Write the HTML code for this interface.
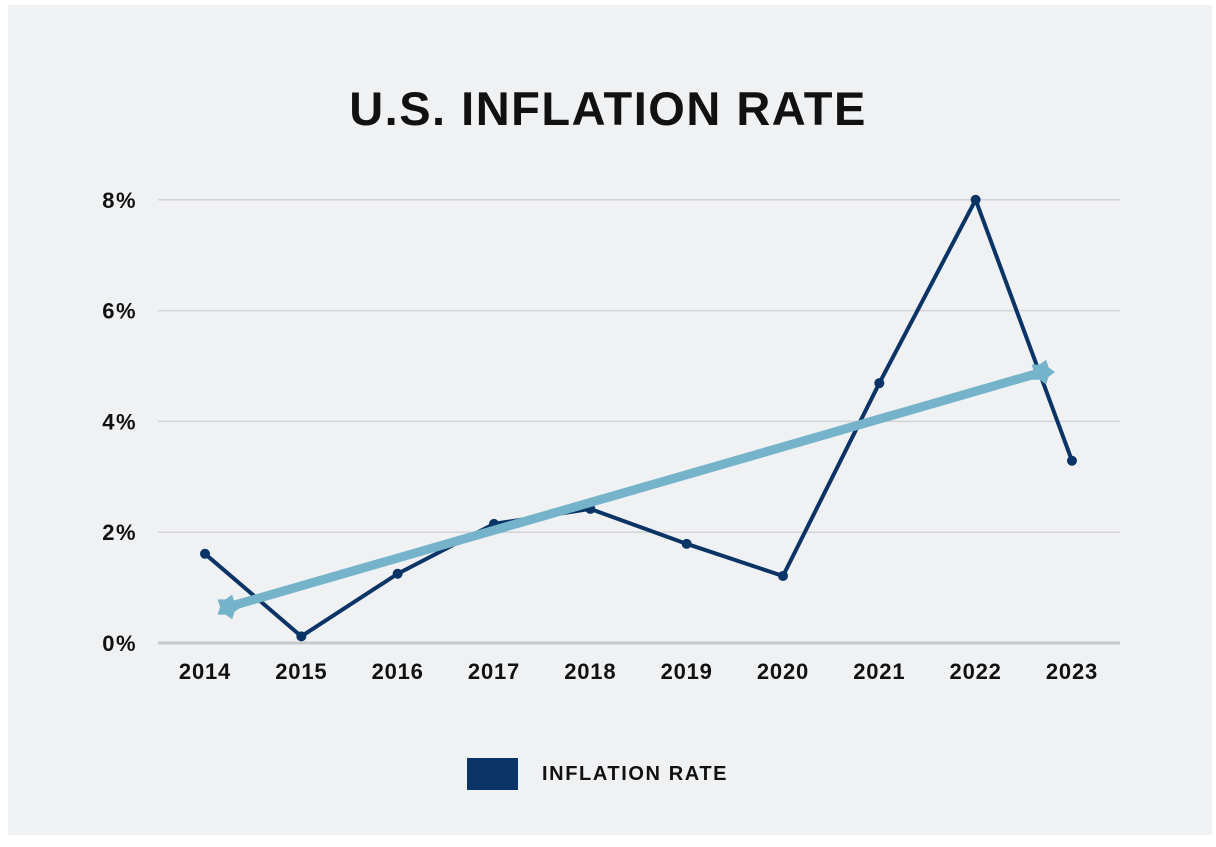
<!DOCTYPE html>
<html><head><meta charset="utf-8"><style>
body{margin:0;background:#fff;width:1216px;height:842px;overflow:hidden;font-family:"Liberation Sans",sans-serif}
</style></head><body>
<svg width="1216" height="842">
<rect x="8" y="5" width="1204" height="830" fill="#f0f1f3"/>
<text x="608" y="125" text-anchor="middle" font-size="47" font-weight="bold" letter-spacing="1.5" fill="#111">U.S. INFLATION RATE</text>
<g id="grid"></g><g id="series"></g>
<rect x="467" y="758" width="51" height="32" fill="#0b3466"/>
<text x="542" y="780" font-size="20" font-weight="bold" letter-spacing="1.6" fill="#111">INFLATION RATE</text>
</svg>
<script>
const years=["2014","2015","2016","2017","2018","2019","2020","2021","2022","2023"];
const rates=[1.61,0.12,1.25,2.15,2.42,1.79,1.21,4.69,8.0,3.29];
const yTicks=[0,2,4,6,8];
const trendX=[0.24,8.69];
const trendY=[0.65,4.89];
const NS="http://www.w3.org/2000/svg";
const xs=i=>205+i*96.33;
const ys=v=>643-v*55.4;
function mk(tag,attrs,parent,txt){const e=document.createElementNS(NS,tag);for(const k in attrs)e.setAttribute(k,attrs[k]);if(txt!==undefined)e.textContent=txt;parent.appendChild(e);return e;}
const grid=document.getElementById('grid'),ser=document.getElementById('series');
yTicks.forEach(t=>{
 const l=mk('line',{x1:158,x2:1120,y1:ys(t),y2:ys(t),stroke:t===0?'#c8c9cc':'#d3d4d7','stroke-width':t===0?3:1.5},grid);
 
 
 const tx=mk('text',{x:137,y:ys(t)+8,'text-anchor':'end','font-size':22,'font-weight':'bold','letter-spacing':1.5,fill:'#111'},grid,t+'%');
 
 
});
years.forEach((y,i)=>{
 const tx=mk('text',{x:xs(i),y:679,'text-anchor':'middle','font-size':22,'font-weight':'bold','letter-spacing':0.8,fill:'#111'},grid,y);
 
 
});
const pl=mk('polyline',{points:rates.map((v,i)=>xs(i)+','+ys(v)).join(' '),fill:'none',stroke:'#0b3466','stroke-width':4,'stroke-linejoin':'round'},ser);


rates.forEach((v,i)=>{
 const c=mk('circle',{cx:xs(i),cy:ys(v),r:5,fill:'#0b3466'},ser);
 
 
});
const tl=mk('line',{x1:xs(trendX[0]),y1:ys(trendY[0]),x2:xs(trendX[1]),y2:ys(trendY[1]),stroke:'#74b3c9','stroke-width':9},ser);


function star(cx,cy){let p=[];for(let k=0;k<10;k++){const r=k%2?8:13,a=Math.PI*k/5;p.push((cx+r*Math.cos(a))+','+(cy+r*Math.sin(a)));}return p.join(' ');}
[0,1].forEach(k=>{
 const s=mk('polygon',{points:star(xs(trendX[k]),ys(trendY[k])),fill:'#74b3c9'},ser);
 
 
});
</script>
</body></html>
